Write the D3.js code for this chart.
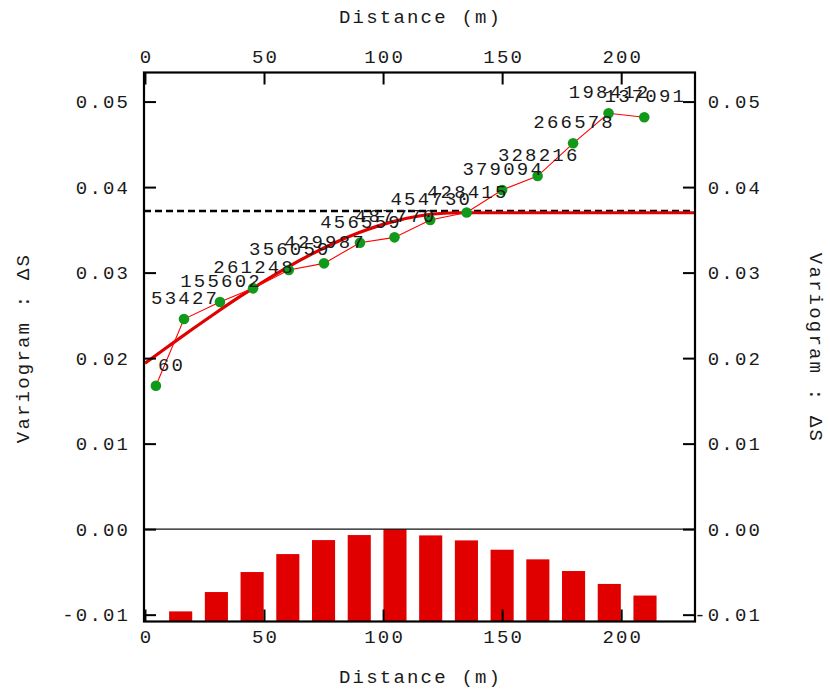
<!DOCTYPE html>
<html>
<head>
<meta charset="utf-8">
<script src="https://cdn.jsdelivr.net/npm/d3@7"></script>
<style>
  html, body { margin: 0; padding: 0; background: #fff; }
  svg text { font-family: "Liberation Mono", "DejaVu Sans Mono", monospace; font-size: 19px; letter-spacing: 2.2px; fill: #1a1a1a; }
</style>
</head>
<body>
<svg id="chart" width="830" height="692"></svg>
<script>
// ---- data ----
const lags   = [4.6, 16.4, 31.5, 45.4, 60.4, 75.2, 90.3, 104.8, 119.8, 135.1, 150.0, 164.9, 179.8, 194.7, 209.7];
const gammas = [0.01677, 0.02457, 0.02656, 0.02816, 0.03030, 0.03108, 0.03349, 0.03412, 0.03615, 0.03702, 0.03966, 0.04129, 0.04512, 0.04863, 0.04816];
const pairCounts = [60, 53427, 155602, 261248, 356059, 429987, 456559, 487770, 454730, 428415, 379094, 328216, 266578, 198412, 137091];

const histLags   = [15, 30, 45, 60, 75, 90, 105, 120, 135, 150, 165, 180, 195, 210];
const histCounts = [53427, 155602, 261248, 356059, 429987, 456559, 487770, 454730, 428415, 379094, 328216, 266578, 198412, 137091];

const modelLags   = [0, 10, 20, 30, 40, 50, 60, 70, 80, 90, 100, 110, 120, 131, 231];
const modelGammas = [0.0194, 0.02141, 0.02340, 0.02534, 0.02721, 0.02899, 0.03065, 0.03216, 0.03352, 0.03468, 0.03564, 0.03636, 0.03682, 0.0370, 0.0370];

const sillLevel = [0.0372];

const xTicks = [0, 50, 100, 150, 200];
const xTickLabels = ["0", "50", "100", "150", "200"];
const yTicks = [-0.01, 0.00, 0.01, 0.02, 0.03, 0.04, 0.05];
const yTickLabels = ["-0.01", "0.00", "0.01", "0.02", "0.03", "0.04", "0.05"];

const xTitle = "Distance (m)";
const yTitle = "Variogram : ΔS";

// ---- layout ----
const L = 144, R = 695, T = 72.5, B = 621.5;
const LS = 2.2, FS = 19;
const svg = d3.select("#chart");

const x = d3.scaleLinear().domain([-0.4, 231]).range([L, R]);
const y = d3.scaleLinear().domain([-0.0108, 0.0534]).range([B, T]);
const countScale = d3.scaleLinear().domain([0, d3.max(histCounts)]).range([B, y(0)]);

const RED = "#e00000", GREEN = "#11991a";

svg.append("defs").append("clipPath").attr("id", "clip")
  .append("rect").attr("x", L).attr("y", T).attr("width", R - L).attr("height", B - T);

const plot = svg.append("g").attr("clip-path", "url(#clip)");

// histogram bars
const halfW = 4.85;
plot.selectAll("rect.bar").data(histLags).join("rect")
  .attr("class", "bar")
  .attr("x", (d) => x(d - halfW))
  .attr("width", (d) => x(d + halfW) - x(d - halfW))
  .attr("y", (d, i) => countScale(histCounts[i]))
  .attr("height", (d, i) => B - countScale(histCounts[i]))
  .attr("fill", RED);

// zero line
plot.append("line")
  .attr("x1", L).attr("x2", R).attr("y1", y(0)).attr("y2", y(0))
  .attr("stroke", "#111").attr("stroke-width", 1.3);

// sill dashed line
plot.selectAll("line.sill").data(sillLevel).join("line")
  .attr("class", "sill")
  .attr("x1", L).attr("x2", R).attr("y1", (d) => y(d)).attr("y2", (d) => y(d))
  .attr("stroke", "#000").attr("stroke-width", 2.5).attr("stroke-dasharray", "7,4");

// point labels (pair counts)
const labelG = svg.append("g");
labelG.selectAll("text").data(lags).join("text")
  .attr("x", (d) => x(d) + LS / 2)
  .attr("y", (d, i) => y(gammas[i]) - 15)
  .attr("text-anchor", "middle")
  .text((d, i) => pairCounts[i])
  .each(function (d) {
    const w = this.getComputedTextLength();
    if (x(d) - w / 2 < L + 4) {
      d3.select(this).attr("text-anchor", "start").attr("x", x(d) + 2);
    }
  });

// model curve
const modelLine = d3.line()
  .x((d) => x(d))
  .y((d, i) => y(modelGammas[i]))
  .curve(d3.curveMonotoneX);
plot.append("path")
  .datum(modelLags)
  .attr("d", modelLine)
  .attr("fill", "none").attr("stroke", RED).attr("stroke-width", 3.2);

// experimental polyline
const expLine = d3.line().x((d) => x(d)).y((d, i) => y(gammas[i]));
plot.append("path")
  .datum(lags)
  .attr("d", expLine)
  .attr("fill", "none").attr("stroke", "#f00").attr("stroke-width", 1.1);

// points
plot.selectAll("circle").data(lags).join("circle")
  .attr("cx", (d) => x(d)).attr("cy", (d, i) => y(gammas[i]))
  .attr("r", 5.3).attr("fill", GREEN);

// ---- axes ----
function styleAxis(g) {
  g.select(".domain").remove();
  g.selectAll(".tick line").attr("stroke", "#000").attr("stroke-width", 2);
  g.selectAll(".tick text").attr("fill", "#1a1a1a")
    .style("font-family", '"Liberation Mono", "DejaVu Sans Mono", monospace')
    .style("font-size", FS + "px").style("letter-spacing", LS + "px");
}

const axB = d3.axisBottom(x).tickValues(xTicks).tickFormat((d, i) => xTickLabels[i]).tickSize(-12).tickPadding(7.6);
svg.append("g").attr("transform", `translate(0,${B})`).call(axB).call(styleAxis)
  .selectAll(".tick text").attr("dx", LS / 2);

const axT = d3.axisTop(x).tickValues(xTicks).tickFormat((d, i) => xTickLabels[i]).tickSize(-12).tickPadding(10);
svg.append("g").attr("transform", `translate(0,${T})`).call(axT).call(styleAxis)
  .selectAll(".tick text").attr("dx", LS / 2);

const axL = d3.axisLeft(y).tickValues(yTicks).tickFormat((d, i) => yTickLabels[i]).tickSize(-12).tickPadding(16 - LS);
svg.append("g").attr("transform", `translate(${L},0)`).call(axL).call(styleAxis);

const axR = d3.axisRight(y).tickValues(yTicks).tickFormat((d, i) => yTickLabels[i]).tickSize(-12).tickPadding(10);
svg.append("g").attr("transform", `translate(${R},0)`).call(axR).call(styleAxis)
  .selectAll(".tick text").attr("text-anchor", "end").attr("x", 760 - R + LS);

// frame
svg.append("rect")
  .attr("x", L).attr("y", T).attr("width", R - L).attr("height", B - T)
  .attr("fill", "none").attr("stroke", "#000").attr("stroke-width", 2.2);

// titles
svg.append("text").attr("x", (L + R) / 2 + LS / 2).attr("y", 23).attr("text-anchor", "middle").text(xTitle);
svg.append("text").attr("x", (L + R) / 2 + LS / 2).attr("y", 683).attr("text-anchor", "middle").text(xTitle);
svg.append("text").attr("transform", "translate(29,348) rotate(-90)").attr("text-anchor", "middle").text(yTitle);
svg.append("text").attr("transform", "translate(810,348) rotate(90)").attr("text-anchor", "middle").text(yTitle);
</script>
</body>
</html>
